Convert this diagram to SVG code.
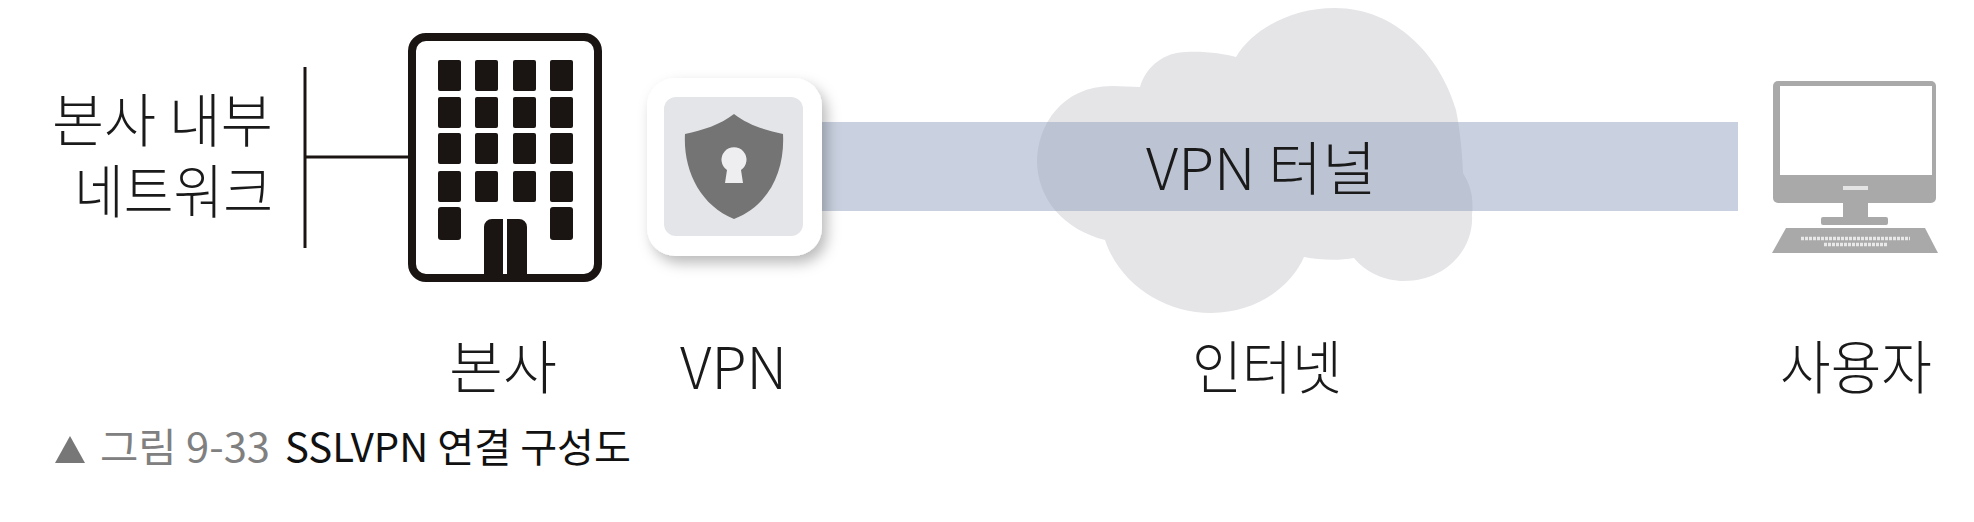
<svg xmlns="http://www.w3.org/2000/svg" width="1974" height="522" viewBox="0 0 1974 522">
<style>
text{font-family:"Noto Sans CJK KR","Noto Sans",sans-serif;font-weight:300;fill:#1a1a1a}
.l{font-size:58px}
.c{font-size:40px;font-weight:400}
.w{fill:#1a1513}
.p{fill:#a9a9a9}
</style>
<defs>
<filter id="sh" x="-20%" y="-20%" width="150%" height="150%"><feDropShadow dx="5" dy="7" stdDeviation="7" flood-color="#000" flood-opacity=".27"/></filter>
<path id="cl" d="M1037 160C1038 125 1062 86 1112 86C1122 86 1132 87 1140 87C1146 66 1165 52 1186 52C1205 51 1225 54 1236 57C1252 30 1290 8 1335 8C1395 8 1440 55 1456 110C1460 130 1462 150 1463 173C1470 185 1474 195 1472 215C1474 250 1445 281 1404 281C1385 281 1365 272 1354 258C1338 261 1320 260 1304 257C1292 285 1258 313 1211 313C1165 313 1120 285 1105 240C1065 230 1037 200 1037 160Z"/>
<clipPath id="band"><rect x="820" y="122" width="918" height="89"/></clipPath>
</defs>
<rect width="1974" height="522" fill="#fff"/>
<g id="cloud">
<use href="#cl" fill="#e5e5e8"/>
</g>
<g id="tunnel">
<rect x="820" y="122" width="918" height="89" fill="#c9d1e0"/>
<use href="#cl" fill="#bcc3d2" clip-path="url(#band)"/>
<text class="l" x="1146" y="190" textLength="230" lengthAdjust="spacingAndGlyphs">VPN 터널</text>
</g>
<g id="connectors" fill="none" stroke="#1a1513">
<path stroke-width="3" d="M305 67V248"/>
<path stroke-width="3" d="M305 157H408"/>
</g>
<g id="network-label">
<text class="l"><tspan x="52" y="142" textLength="221" lengthAdjust="spacingAndGlyphs">본사 내부</tspan><tspan x="74" y="213" textLength="199" lengthAdjust="spacingAndGlyphs">네트워크</tspan></text>
</g>
<g id="hq">
<rect x="412" y="37" width="186" height="241" rx="14" fill="#fff" stroke="#1a1513" stroke-width="8"/>
<g class="w">
<rect x="438" y="60" width="23" height="31" rx="2"/><rect x="475" y="60" width="23" height="31" rx="2"/><rect x="513" y="60" width="23" height="31" rx="2"/><rect x="550" y="60" width="23" height="31" rx="2"/>
<rect x="438" y="97" width="23" height="31" rx="2"/><rect x="475" y="97" width="23" height="31" rx="2"/><rect x="513" y="97" width="23" height="31" rx="2"/><rect x="550" y="97" width="23" height="31" rx="2"/>
<rect x="438" y="133" width="23" height="31" rx="2"/><rect x="475" y="133" width="23" height="31" rx="2"/><rect x="513" y="133" width="23" height="31" rx="2"/><rect x="550" y="133" width="23" height="31" rx="2"/>
<rect x="438" y="171" width="23" height="31" rx="2"/><rect x="475" y="171" width="23" height="31" rx="2"/><rect x="513" y="171" width="23" height="31" rx="2"/><rect x="550" y="171" width="23" height="31" rx="2"/>
<rect x="438" y="207" width="23" height="33" rx="3"/><rect x="550" y="207" width="23" height="33" rx="3"/>
<path d="M484 278V227a8 8 0 0 1 8-8H503V278ZM507 278V219H519a8 8 0 0 1 8 8V278Z"/>
</g>
<text class="l" x="449" y="389" textLength="108" lengthAdjust="spacingAndGlyphs">본사</text>
</g>
<g id="vpn">
<rect x="647" y="78" width="175" height="178" rx="28" fill="#fff" filter="url(#sh)"/>
<rect x="664" y="97" width="139" height="139" rx="12" fill="#e4e5e8"/>
<path fill="#747474" d="M734 114C748 125 765 130 783 134C785 170 770 205 734 219C700 205 683 170 685 134C703 130 720 125 734 114Z"/>
<path fill="#eeeef0" d="M727 170A12.500 12.500 0 1 1 741 170L743 183H725Z"/>
<text class="l" x="680" y="389" textLength="107" lengthAdjust="spacingAndGlyphs">VPN</text>
</g>
<g id="internet-label">
<text class="l" x="1192" y="389" textLength="150" lengthAdjust="spacingAndGlyphs">인터넷</text>
</g>
<g id="user">
<rect x="1773" y="81" width="163" height="122" rx="5" class="p"/>
<rect x="1780" y="86" width="152" height="89" fill="#fff"/>
<rect x="1843" y="186" width="25" height="4" fill="#e4e4e4"/>
<rect x="1843" y="203" width="25" height="15" class="p"/>
<rect x="1821" y="217" width="67" height="8" rx="2" class="p"/>
<path class="p" d="M1786 228H1925L1938 253H1772Z"/>
<path d="M1801 238.500H1910M1824 244.500H1887" stroke="#e8e8e8" stroke-width="3.500" stroke-dasharray="3 1" fill="none"/>
<text class="l" x="1780" y="389" textLength="152" lengthAdjust="spacingAndGlyphs">사용자</text>
</g>
<g id="caption">
<path fill="#777" d="M70 436L85 463H55Z"/>
<text class="c" x="100" y="462" style="fill:#808080" textLength="170" lengthAdjust="spacingAndGlyphs">그림 9-33</text>
<text class="c" x="285" y="462" style="fill:#111" textLength="346" lengthAdjust="spacingAndGlyphs">SSLVPN 연결 구성도</text>
</g>
</svg>
